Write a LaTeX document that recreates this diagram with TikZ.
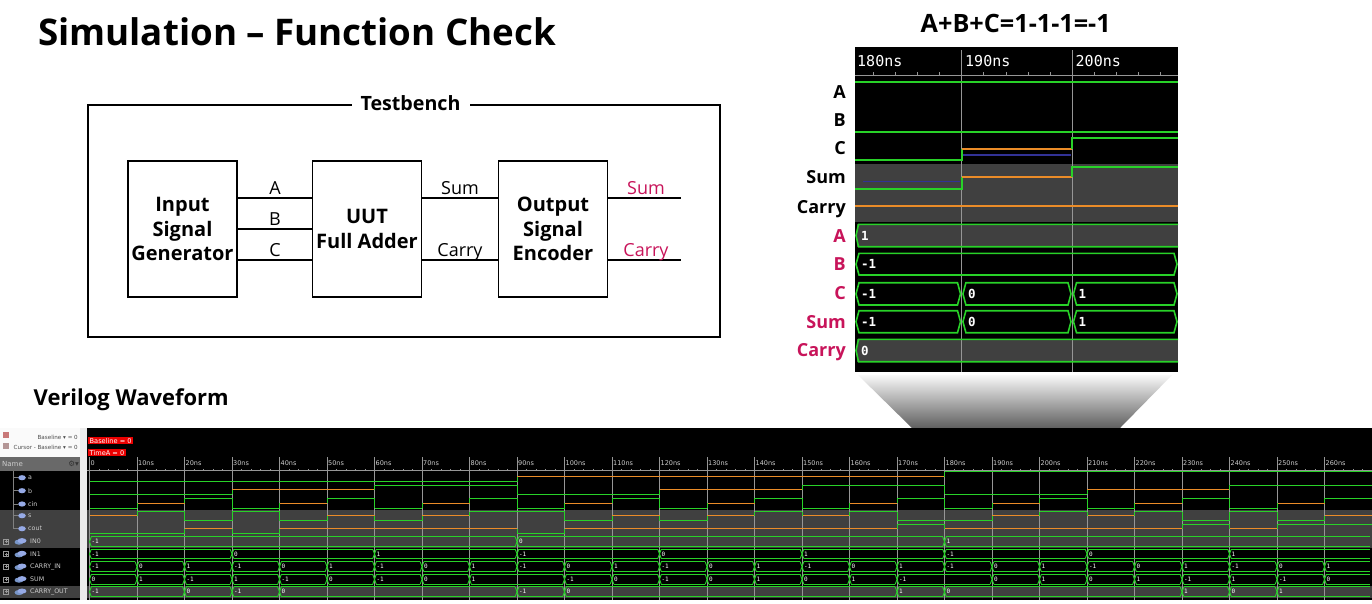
\documentclass[tikz,border=0pt]{standalone}
\usepackage{graphicx}
\usepackage{fontspec}
\IfFontExistsTF{Open Sans Bold}
  {\setmainfont{Open Sans}}
  {\IfFontExistsTF{Fira Sans Bold}
     {\setmainfont{Fira Sans}}
     {\setmainfont{Noto Sans}[BoldFont={Noto Sans}, BoldFeatures={FakeBold=2}]}}
\newfontfamily\wavefont{DejaVu Sans Mono}
\newfontfamily\uifont{DejaVu Sans}
\usetikzlibrary{calc}
\definecolor{wgreen}{RGB}{40,210,40}
\definecolor{worange}{RGB}{235,140,40}
\definecolor{wgray}{RGB}{64,64,64}
\definecolor{wgrid}{RGB}{150,150,150}
\definecolor{wblue}{RGB}{50,50,150}
\definecolor{pinkred}{RGB}{200,20,90}
\definecolor{hdrgray}{RGB}{105,105,105}
\definecolor{iconblue}{RGB}{150,170,230}
\definecolor{icondark}{RGB}{120,150,200}
\definecolor{uitext}{RGB}{205,205,205}
\definecolor{panelwhite}{RGB}{250,250,250}
\definecolor{sepgray}{RGB}{235,235,235}
\definecolor{iconred}{RGB}{200,120,120}
\definecolor{iconred2}{RGB}{180,150,150}
\definecolor{funneltop}{RGB}{248,248,248}
\definecolor{funnelbot}{RGB}{95,95,95}
\definecolor{redbox}{RGB}{235,0,0}

% analog-style signal: x0, dx, y(+1), y(0), y(-1), list, line width
\newcommand\anasig[7]{%
  \foreach \v [count=\k from 0] in {#6} {%
    \pgfmathsetmacro\xa{#1+#2*\k}%
    \pgfmathsetmacro\xb{#1+#2*(\k+1)}%
    \ifnum\v=1 \def\yy{#3}\def\cc{wgreen}\fi
    \ifnum\v=0 \def\yy{#4}\def\cc{worange}\fi
    \ifnum\v=-1 \def\yy{#5}\def\cc{wgreen}\fi
    \draw[\cc, line width=#7] (\xa,\yy) -- (\xb,\yy);
    \ifnum\k>0 \draw[wgreen, line width=#7] (\xa,\prevy) -- (\xa,\yy);\fi
    \xdef\prevy{\yy}%
  }%
}
% bus signal: x0, dx, ytop, ybot, d, list, label style, name prefix
\newcommand\busrow[8]{%
  \foreach \v [count=\k from 0] in {#6} {%
    \pgfmathsetmacro\xa{#1+#2*\k}%
    \pgfmathsetmacro\xb{#1+#2*(\k+1)}%
    \pgfmathsetmacro\ym{(#3+#4)/2}%
    \draw[wgreen, busline] ({\xa+#5},#3) -- ({\xb-#5},#3) ({\xa+#5},#4) -- ({\xb-#5},#4);
    \ifnum\k=0
      \draw[wgreen, busline] ({\xa+#5},#3) -- (\xa,\ym) -- ({\xa+#5},#4);
      \node[#7, anchor=west] (#8\k) at ({\xa+#5},\ym) {\v};
    \else
      \ifnum\v=\prevv\relax
        \draw[wgreen, busline] ({\xa-#5},#3) -- ({\xa+#5},#3) ({\xa-#5},#4) -- ({\xa+#5},#4);
      \else
        \draw[wgreen, busline] ({\xa-#5},#3) -- (\xa,\ym) -- ({\xa+#5},#4) ({\xa-#5},#4) -- (\xa,\ym) -- ({\xa+#5},#3);
        \node[#7, anchor=west] (#8\k) at ({\xa+#5},\ym) {\v};
      \fi
    \fi
    \xdef\prevv{\v}%
  }%
}
% closed hexagonal bus segment: x1, x2, ytop, ybot, d
\newcommand\hexseg[5]{%
  \draw[wgreen, line width=1.6pt] ({#1+#5},#3) -- ({#2-#5},#3) -- (#2,{(#3+#4)/2}) -- ({#2-#5},#4) -- ({#1+#5},#4) -- (#1,{(#3+#4)/2}) -- cycle;}
% open-ended bus segment (runs out of the window on the right)
\newcommand\openseg[5]{%
  \draw[wgreen, line width=1.6pt] (#2,#3) -- ({#1+#5},#3) -- (#1,{(#3+#4)/2}) -- ({#1+#5},#4) -- (#2,#4);}

\tikzset{
  blk/.style={draw, line width=1.7pt, minimum width=109pt, minimum height=136pt, inner sep=0pt,
    align=center, font=\fontsize{20}{24.5}\selectfont\bfseries},
  wire/.style={line width=1.7pt},
  wlbl/.style={anchor=base, inner sep=0pt, font=\fontsize{18}{20}\selectfont},
  zlbl/.style={anchor=base east, inner sep=0pt, font=\fontsize{18}{20}\selectfont\bfseries},
  zval/.style={inner sep=0pt, text=white, font=\wavefont\bfseries\fontsize{12.5}{13}\selectfont},
  ztime/.style={anchor=west, inner sep=0pt, text=white, font=\wavefont\fontsize{15}{16}\selectfont},
  zwave/.style={line width=1.8pt},
  bval/.style={inner sep=0pt, text=white, font=\wavefont\fontsize{6}{7}\selectfont},
  btime/.style={anchor=west, inner sep=0pt, text=uitext, font=\uifont\fontsize{6.5}{7}\selectfont},
  busline/.style={line width=0.9pt},
  redlbl/.style={fill=redbox, text=white, inner xsep=1.5pt, inner ysep=1.3pt, anchor=north west,
    font=\uifont\fontsize{6.6}{7}\selectfont},
  uitxt/.style={inner sep=0pt, text=uitext, font=\uifont\fontsize{6.3}{7}\selectfont},
  uismall/.style={inner sep=0pt, text=black!70, font=\uifont\fontsize{5.6}{6}\selectfont},
}

\begin{document}
\begin{tikzpicture}[x=1pt, y=-1pt]
\useasboundingbox (0,0) rectangle (1372,603);
\fill[white] (0,0) rectangle (1372,603);

% ---------------- titles ----------------
\node[anchor=base west, inner sep=0pt] (title) at (38,45)
  {\resizebox{518pt}{!}{\fontsize{38}{44}\selectfont\bfseries Simulation – Function Check}};
\node[anchor=base west, inner sep=0pt] (eqn) at (920.5,32.5)
  {\resizebox{190pt}{!}{\fontsize{24}{28}\selectfont\bfseries A+B+C=1-1-1=-1}};
\node[anchor=base west, inner sep=0pt] (vw) at (33.5,405)
  {\resizebox{195pt}{!}{\fontsize{20}{24}\selectfont\bfseries Verilog Waveform}};

% ---------------- testbench block diagram ----------------
\draw[wire] (88,105) rectangle (720,337);
\node[anchor=base, fill=white, inner xsep=9pt, inner ysep=3pt] (tb) at (410.5,110)
  {\resizebox{100pt}{!}{\fontsize{19.5}{22}\selectfont\bfseries Testbench}};

\node[blk] (gen) at (182.5,229) {Input\\Signal\\Generator};
\node[blk] (uut) at (367,229) {UUT\\Full Adder};
\node[blk] (enc) at (553,229) {Output\\Signal\\Encoder};

\coordinate (ya) at (0,198);
\coordinate (yb) at (0,229);
\coordinate (yc) at (0,260);
\coordinate (sumout) at (681,198);
\coordinate (carryout) at (681,260);

\draw[wire] (gen.east |- ya) -- (uut.west |- ya);
\draw[wire] (gen.east |- yb) -- (uut.west |- yb);
\draw[wire] (gen.east |- yc) -- (uut.west |- yc);
\draw[wire] (uut.east |- ya) -- (enc.west |- ya);
\draw[wire] (uut.east |- yc) -- (enc.west |- yc);
\draw[wire] (enc.east |- ya) -- (sumout);
\draw[wire] (enc.east |- yc) -- (carryout);

\node[wlbl] (la) at (275,194) {A};
\node[wlbl] (lb) at (275,225) {B};
\node[wlbl] (lc) at (275,256) {C};
\node[wlbl] (lsum) at (460,194) {Sum};
\node[wlbl] (lcarry) at (460,256.5) {Carry};
\node[wlbl, text=pinkred] (osum) at (646,194) {Sum};
\node[wlbl, text=pinkred] (ocarry) at (646,256.5) {Carry};

% ---------------- zoomed waveform window ----------------
\fill[black] (855,47) rectangle (1178,372);
\fill[wgray] (855,164) rectangle (1178,222);
\fill[wgray] (857,224.3) rectangle (1178,246.7);
\fill[wgray] (857,339.3) rectangle (1178,361.7);
% ruler
\draw[wgrid, line width=0.9pt] (855,75) -- (1178,75);
\foreach \i in {1,...,14} { \draw[wgrid, line width=0.9pt] ({851.1+\i*11.06*2},75) -- ++(0,-3); }
\foreach \x in {961.7,1072.3} { \draw[wgrid, line width=1.4pt] (\x,50) -- (\x,372); }
\node[ztime] (z180) at (857,61) {180ns};
\node[ztime] (z190) at (965,61) {190ns};
\node[ztime] (z200) at (1075.5,61) {200ns};
% analog rows
\draw[wgreen, zwave] (855,81.7) -- (1178,81.7);
\draw[wgreen, zwave] (855,131.7) -- (1178,131.7);
\draw[wblue, line width=1.4pt] (963,155) -- (1071,155);
\draw[wblue, line width=1.4pt] (863,181.7) -- (960,181.7);
\draw[wgreen, zwave] (855,160) -- (961.7,160) -- (961.7,149);
\draw[worange, zwave] (961.7,149) -- (1072.3,149);
\draw[wgreen, zwave] (1072.3,149) -- (1072.3,138) -- (1178,138);
\draw[wgreen, zwave] (855,189) -- (961.7,189) -- (961.7,176.7);
\draw[worange, zwave] (961.7,176.7) -- (1072.3,176.7);
\draw[wgreen, zwave] (1072.3,176.7) -- (1072.3,166.7) -- (1178,166.7);
\draw[worange, zwave] (855,205.7) -- (1178,205.7);
% bus rows
\openseg{856}{1178}{224.3}{246.7}{2.5}
\hexseg{856}{1177}{253.3}{275}{3}
\hexseg{856}{960.5}{282.7}{305}{3}
\hexseg{962.9}{1071}{282.7}{305}{3}
\hexseg{1073.5}{1177}{282.7}{305}{3}
\hexseg{856}{960.5}{310.7}{332.7}{3}
\hexseg{962.9}{1071}{310.7}{332.7}{3}
\hexseg{1073.5}{1177}{310.7}{332.7}{3}
\openseg{856}{1178}{339.3}{361.7}{2.5}
\node[zval, anchor=west] (za) at (861,235.5) {1};
\node[zval, anchor=west] (zb) at (861,264.2) {-1};
\node[zval, anchor=west] (zc1) at (861,293.9) {-1};
\node[zval, anchor=west] (zc2) at (968,293.9) {0};
\node[zval, anchor=west] (zc3) at (1078.5,293.9) {1};
\node[zval, anchor=west] (zs1) at (861,321.7) {-1};
\node[zval, anchor=west] (zs2) at (968,321.7) {0};
\node[zval, anchor=west] (zs3) at (1078.5,321.7) {1};
\node[zval, anchor=west] (zcy) at (861,350.5) {0};
% row labels
\node[zlbl] (zla) at (846,98) {A};
\node[zlbl] (zlb) at (846,126) {B};
\node[zlbl] (zlc) at (846,154) {C};
\node[zlbl] (zlsum) at (846,183) {Sum};
\node[zlbl] (zlcarry) at (846,213) {Carry};
\node[zlbl, text=pinkred] (zpa) at (846,242) {A};
\node[zlbl, text=pinkred] (zpb) at (846,270.7) {B};
\node[zlbl, text=pinkred] (zpc) at (846,299.3) {C};
\node[zlbl, text=pinkred] (zpsum) at (846,328.3) {Sum};
\node[zlbl, text=pinkred] (zpcarry) at (846,356.7) {Carry};

% funnel
\shade[top color=funneltop, bottom color=funnelbot]
  (858,375) -- (1172,375) -- (1120,428) -- (912,428) -- cycle;

% ---------------- full Verilog waveform ----------------
\fill[black] (87,428) rectangle (1372,600);
\fill[wgray] (87,510) rectangle (1372,547.5);
\fill[wgray] (87,586) rectangle (1372,597.5);
\node[redlbl] (baseline) at (88,436.5) {Baseline = 0};
\node[redlbl] (timea) at (88,448.5) {TimeA = 0};
% ruler and grid
\draw[wgrid, line width=0.7pt] (87,470) -- (1372,470);
\foreach \i in {0,...,135} { \draw[wgrid, line width=0.5pt] ({89.5+9.5*\i},470) -- ++(0,-1.5); }
\foreach \k in {0,...,26} { \draw[wgrid, line width=0.6pt] ({89.5+47.5*\k},457) -- ({89.5+47.5*\k},600); }
\node[btime] (bt0) at (90.5,463) {0};
\foreach \k in {1,...,26} { \node[btime] (bt\k) at ({90.5+47.5*\k},463) {\k0ns}; }
% analog rows
\anasig{89.5}{47.5}{471.7}{476.7}{481.7}{-1,-1,-1,-1,-1,-1,-1,-1,-1,0,0,0,0,0,0,0,0,0,1,1,1,1,1,1,1,1,1}{1pt}
\anasig{89.5}{47.5}{485}{489.5}{494.3}{-1,-1,-1,0,0,0,1,1,1,-1,-1,-1,0,0,0,1,1,1,-1,-1,-1,0,0,0,1,1,1}{1pt}
\anasig{89.5}{47.5}{498.3}{503.3}{508.3}{-1,0,1,-1,0,1,-1,0,1,-1,0,1,-1,0,1,-1,0,1,-1,0,1,-1,0,1,-1,0,1}{1pt}
\anasig{89.5}{47.5}{511.5}{515.5}{520.5}{0,1,-1,1,-1,0,-1,0,1,1,-1,0,-1,0,1,0,1,-1,-1,0,1,0,1,-1,1,-1,0}{1pt}
\anasig{89.5}{47.5}{524.5}{528.7}{533.3}{-1,-1,0,-1,0,0,0,0,0,-1,0,0,0,0,0,0,0,1,0,0,0,0,0,1,0,1,1}{1pt}
% bus rows
\busrow{89.5}{47.5}{536.7}{546.7}{1.8}{-1,-1,-1,-1,-1,-1,-1,-1,-1,0,0,0,0,0,0,0,0,0,1,1,1,1,1,1,1,1,1}{bval}{ina}
\busrow{89.5}{47.5}{549.2}{558.6}{1.8}{-1,-1,-1,0,0,0,1,1,1,-1,-1,-1,0,0,0,1,1,1,-1,-1,-1,0,0,0,1,1,1}{bval}{inb}
\busrow{89.5}{47.5}{561.7}{571.7}{1.8}{-1,0,1,-1,0,1,-1,0,1,-1,0,1,-1,0,1,-1,0,1,-1,0,1,-1,0,1,-1,0,1}{bval}{cin}
\busrow{89.5}{47.5}{574.3}{584.3}{1.8}{0,1,-1,1,-1,0,-1,0,1,1,-1,0,-1,0,1,0,1,-1,-1,0,1,0,1,-1,1,-1,0}{bval}{sum}
\busrow{89.5}{47.5}{586.9}{596.7}{1.8}{-1,-1,0,-1,0,0,0,0,0,-1,0,0,0,0,0,0,0,1,0,0,0,0,0,1,0,1,1}{bval}{cout}

% ---------------- name panel ----------------
\fill[panelwhite] (0,428) rectangle (80,457);
\fill[iconred] (3,432) rectangle (9,438);
\fill[iconred2] (3,443) rectangle (9,449);
\node[uismall, anchor=east] (nbl) at (78,437) {Baseline ▾ = 0};
\node[uismall, anchor=east] (ncb) at (78,447) {Cursor - Baseline ▾ = 0};
\fill[hdrgray] (0,457) rectangle (80,471);
\node[uitxt, anchor=west, font=\uifont\fontsize{7}{7}\selectfont] (nhdr) at (2,464) {Name};
\node[uitxt, anchor=east, text=black!80, font=\uifont\fontsize{7.5}{7}\selectfont] (ngear) at (79,464) {⚙▾};
\fill[black] (0,471) rectangle (80,600);
\fill[wgray] (0,509.5) rectangle (80,548);
\fill[wgray] (0,585.5) rectangle (80,598);
\draw[gray, line width=0.5pt] (13,471) -- (13,528.7);
\foreach \y/\n [count=\i] in {477.7/a, 490.7/b, 504/cin, 515.7/s, 528.7/cout} {
  \draw[gray, line width=0.5pt] (13,\y) -- (18,\y);
  \fill[iconblue] (22,\y) ellipse (3.8 and 2.6);
  \node[uitxt, anchor=west] (nm\i) at (28,\y) {\n};
}
\foreach \y/\n [count=\i] in {541.3/IN0, 554/IN1, 566.7/CARRY\_IN, 579.3/SUM, 591.7/CARRY\_OUT} {
  \draw[gray!80, line width=0.5pt] (3.5,{\y-2.5}) rectangle (8.5,{\y+2.5});
  \draw[gray!80, line width=0.5pt] (4.5,\y) -- (7.5,\y) (6,{\y-1.5}) -- (6,{\y+1.5});
  \fill[icondark] (19,{\y+0.8}) ellipse (4.5 and 2.6);
  \fill[iconblue] (22,{\y-0.6}) ellipse (4.5 and 2.6);
  \node[uitxt, anchor=west] (nb\i) at (30,\y) {\n};
}
\fill[sepgray] (80,428) rectangle (87,600);
\end{tikzpicture}
\end{document}
